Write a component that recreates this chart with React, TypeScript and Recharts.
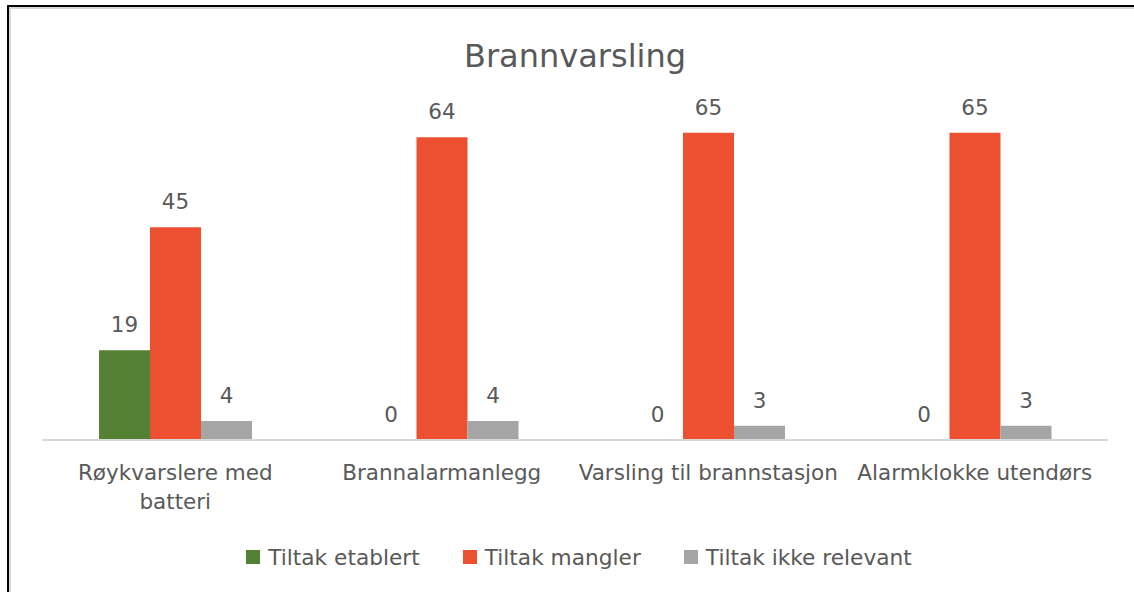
import React from "react";
import { BarChart, Bar, XAxis, YAxis, Legend, LabelList } from "recharts";

const categories = [
  "Røykvarslere med\nbatteri",
  "Brannalarmanlegg",
  "Varsling til brannstasjon",
  "Alarmklokke utendørs",
];
const tiltakEtablert = [19, 0, 0, 0];
const tiltakMangler = [45, 64, 65, 65];
const tiltakIkkeRelevant = [4, 4, 3, 3];

const seriesNames = ["Tiltak etablert", "Tiltak mangler", "Tiltak ikke relevant"];
const seriesColors = ["#548235", "#ED5031", "#A5A5A5"];

const FONT = "'DejaVu Sans', sans-serif";
const TEXT = "#595959";

const data = categories.map((name, i) => ({
  name,
  etablert: tiltakEtablert[i],
  mangler: tiltakMangler[i],
  ikke: tiltakIkkeRelevant[i],
}));

const CategoryTick = (props: any) => {
  const { x, y, payload } = props;
  const lines = String(payload.value).split("\n");
  return (
    <text
      x={x}
      y={y}
      textAnchor="middle"
      fill={TEXT}
      fontSize={21.5}
      fontFamily={FONT}
    >
      {lines.map((line, i) => (
        <tspan key={i} x={x} dy={i === 0 ? "0.71em" : 29}>
          {line}
        </tspan>
      ))}
    </text>
  );
};

const LegendContent = () => (
  <div
    style={{
      height: 30,
      display: "flex",
      justifyContent: "center",
      alignItems: "center",
      gap: 43,
      fontFamily: FONT,
      fontSize: 21.7,
      color: TEXT,
      paddingLeft: 8,
    }}
  >
    {seriesNames.map((n, i) => (
      <div key={n} style={{ display: "flex", alignItems: "center" }}>
        <span
          style={{
            width: 14,
            height: 14,
            background: seriesColors[i],
            marginRight: 8,
            display: "inline-block",
          }}
        />
        {n}
      </div>
    ))}
  </div>
);

export default function App() {
  const keys = ["etablert", "mangler", "ikke"];
  return (
    <div
      style={{
        position: "absolute",
        left: 0,
        top: 0,
        width: 1134,
        height: 592,
        background: "#fff",
        overflow: "hidden",
      }}
    >
      {/* frame */}
      <div
        style={{
          position: "absolute",
          left: 7,
          top: 5,
          right: -10,
          bottom: -10,
          borderLeft: "2px solid #000",
          borderTop: "2px solid #000",
          boxShadow: "inset 2px 2px 0 #d9d9d9",
        }}
      />
      <div
        style={{
          position: "absolute",
          left: 42,
          width: 1066,
          top: 40,
          textAlign: "center",
          fontFamily: FONT,
          fontSize: 32,
          color: TEXT,
          lineHeight: "32px",
        }}
      >
        Brannvarsling
      </div>
      <BarChart
        width={1134}
        height={592}
        data={data}
        margin={{ top: 109, right: 26, left: 42, bottom: 20 }}
        barSize={51}
        barGap={0}
        style={{ position: "absolute", left: 0, top: 0 }}
      >
        <XAxis
          dataKey="name"
          height={102}
          tickLine={false}
          tickSize={0}
          tickMargin={25}
          axisLine={{ stroke: "#D9D9D9", strokeWidth: 2 }}
          tick={<CategoryTick />}
          interval={0}
        />
        <YAxis hide domain={[0, 70]} />
        <Legend verticalAlign="bottom" content={<LegendContent />} />
        {keys.map((k, i) => (
          <Bar
            key={k}
            dataKey={k}
            name={seriesNames[i]}
            fill={seriesColors[i]}
            minPointSize={0.01}
            isAnimationActive={false}
          >
            <LabelList
              dataKey={k}
              position="top"
              offset={18}
              fill={TEXT}
              fontSize={21.5}
              fontFamily={FONT}
            />
          </Bar>
        ))}
      </BarChart>
    </div>
  );
}
